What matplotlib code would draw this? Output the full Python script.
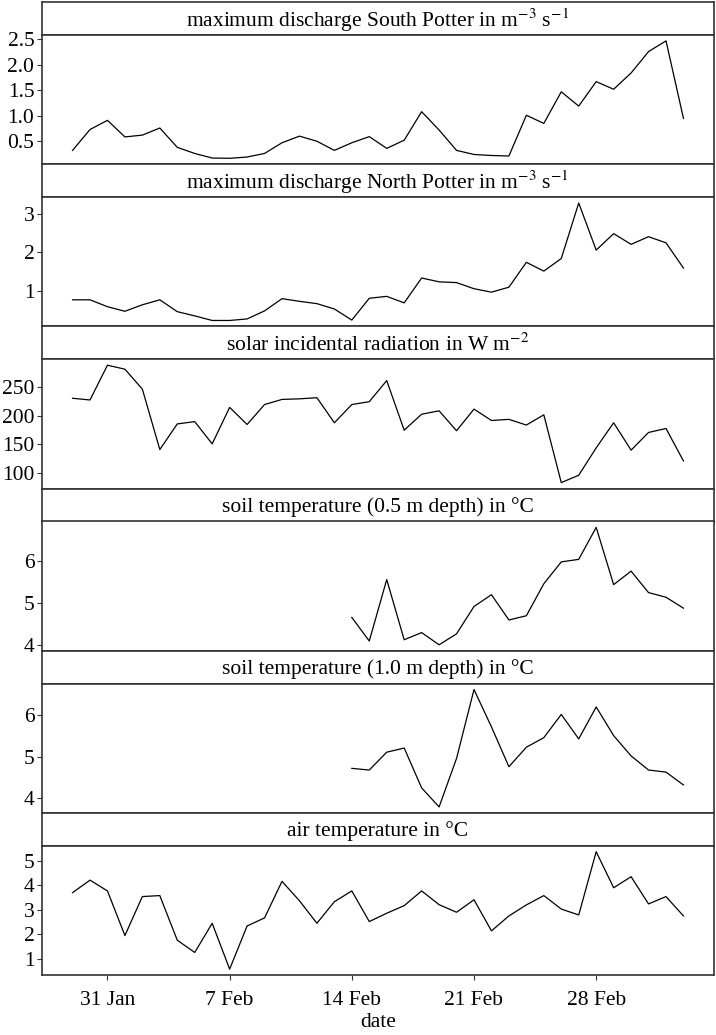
import numpy as np
import pandas as pd
import matplotlib
matplotlib.use("Agg")
import matplotlib.pyplot as plt
import matplotlib.dates as mdates
from matplotlib.ticker import MaxNLocator

plt.rcParams["font.family"] = ["Liberation Serif", "DejaVu Serif"]
plt.rcParams["mathtext.fontset"] = "stix"

# --- Data (daily, 29 Jan - 5 Mar) ---
dates = pd.date_range("2017-01-29", periods=36, freq="D")

south_potter = [0.32, 0.73, 0.91, 0.585, 0.62, 0.76, 0.38, 0.26, 0.17, 0.165,
                0.19, 0.26, 0.47, 0.60, 0.50, 0.32, 0.47, 0.59, 0.36, 0.52,
                1.08, 0.72, 0.32, 0.24, 0.22, 0.21, 1.01, 0.85, 1.47, 1.19,
                1.67, 1.52, 1.84, 2.26, 2.47, 0.95]

north_potter = [0.76, 0.76, 0.58, 0.46, 0.63, 0.76, 0.45, 0.34, 0.22, 0.22,
                0.26, 0.47, 0.79, 0.72, 0.66, 0.52, 0.23, 0.80, 0.85, 0.68,
                1.33, 1.23, 1.21, 1.05, 0.96, 1.09, 1.74, 1.51, 1.84, 3.29,
                2.06, 2.49, 2.21, 2.41, 2.25, 1.59]

solar = [231, 228, 289, 282, 247, 141, 186, 190, 151, 215,
         185, 220, 229, 230, 232, 188, 220, 225, 262, 175,
         203, 209, 174, 212, 192, 194, 184, 202, 83, 96,
         144, 188, 140, 171, 178, 121]

nan = np.nan
soil_05 = [nan] * 16 + [4.65, 4.09, 5.55, 4.12, 4.29, 4.00, 4.26, 4.91, 5.19, 4.59,
                        4.69, 5.45, 5.97, 6.03, 6.79, 5.43, 5.75, 5.24, 5.13, 4.87]

soil_10 = [nan] * 16 + [4.72, 4.68, 5.11, 5.21, 4.25, 3.79, 4.96, 6.62, 5.72, 4.76,
                        5.23, 5.46, 6.02, 5.43, 6.20, 5.51, 5.02, 4.68, 4.63, 4.32]

air_temp = [3.70, 4.21, 3.77, 1.95, 3.54, 3.58, 1.76, 1.26, 2.45, 0.58,
            2.34, 2.67, 4.16, 3.37, 2.45, 3.33, 3.77, 2.52, 2.86, 3.17,
            3.77, 3.21, 2.90, 3.41, 2.14, 2.75, 3.20, 3.58, 3.03, 2.79,
            5.37, 3.90, 4.35, 3.24, 3.54, 2.75]

titles = [
    "maximum discharge South Potter in m$^{-3}$ s$^{-1}$",
    "maximum discharge North Potter in m$^{-3}$ s$^{-1}$",
    "solar incidental radiation in W m$^{-2}$",
    "soil temperature (0.5 m depth) in °C",
    "soil temperature (1.0 m depth) in °C",
    "air temperature in °C",
]
series = [south_potter, north_potter, solar, soil_05, soil_10, air_temp]
tick_dates = pd.to_datetime(["2017-01-31", "2017-02-07", "2017-02-14",
                             "2017-02-21", "2017-02-28"])

# --- Layout (pixels in a 716x1035 figure) ---
W, H = 716, 1035
fig = plt.figure(figsize=(W / 100, H / 100), dpi=100)
left, right = 42, 714
top, bottom = 2, 975
strip_h = 33
panel_h = (bottom - top) / len(series)
edge = "#333333"

axes = []
for i, (title, vals) in enumerate(zip(titles, series)):
    y0 = top + i * panel_h
    # strip with title
    sax = fig.add_axes([left / W, 1 - (y0 + strip_h) / H, (right - left) / W, strip_h / H])
    sax.set_xticks([])
    sax.set_yticks([])
    for s in sax.spines.values():
        s.set_color(edge)
        s.set_linewidth(1.2)
    sax.text(0.5, 0.45, title, ha="center", va="center", fontsize=15.5,
             transform=sax.transAxes)
    # data axes
    ax = fig.add_axes([left / W, 1 - (y0 + panel_h) / H, (right - left) / W,
                       (panel_h - strip_h) / H],
                      sharex=axes[0] if axes else None)
    ax.plot(dates, vals, color="black", lw=0.9)
    ax.yaxis.set_major_locator(MaxNLocator(nbins=6, steps=[1, 2, 5, 10]))
    for s in ax.spines.values():
        s.set_color(edge)
        s.set_linewidth(1.2)
    ax.tick_params(axis="y", labelsize=15.5, color=edge, length=3.5, pad=2)
    ax.tick_params(axis="x", labelsize=15.5, color=edge, length=3.5, pad=8)
    axes.append(ax)

for ax in axes[:-1]:
    ax.tick_params(axis="x", bottom=False, labelbottom=False)

axes[-1].set_xticks(tick_dates)
axes[-1].xaxis.set_major_formatter(mdates.DateFormatter("%-d %b"))
axes[-1].set_xlabel("date", fontsize=15.5, labelpad=2)

fig.savefig("out.png", dpi=100, facecolor="white")
